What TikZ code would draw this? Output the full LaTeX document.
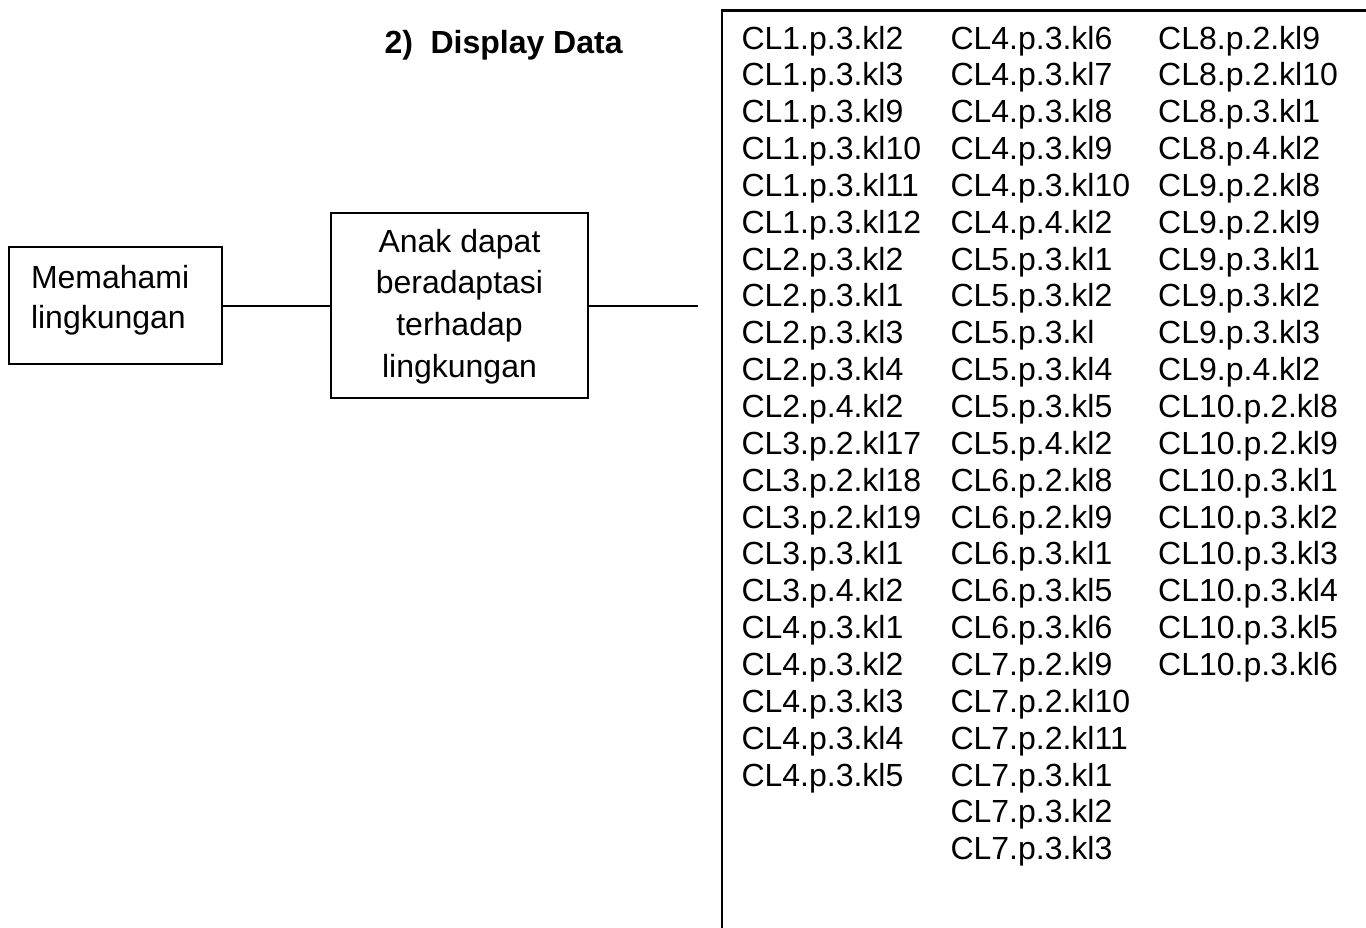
\documentclass[tikz,border=0pt]{standalone}
\usepackage{fontspec}
\setmainfont{Liberation Sans}
% stacked lines, baseline of the whole stack = baseline of its first line
\newcommand\stackleft[2]{\vtop{\baselineskip=#1\lineskiplimit=-20pt\halign{##\hfil\cr#2\crcr}}}
\newcommand\stackcenter[2]{\vtop{\baselineskip=#1\lineskiplimit=-20pt\halign{\hfil##\hfil\cr#2\crcr}}}
\tikzset{
  txt/.style={font=\fontsize{12pt}{13.8pt}\selectfont},
  box/.style={draw, line width=0.75pt, rectangle, txt, inner ysep=0pt},
  link/.style={line width=0.75pt},
  column/.style={txt, anchor=base west, inner sep=0pt},
}
\begin{document}
\begin{tikzpicture}[x=0.375pt,y=-0.375pt]
\useasboundingbox (0,0) rectangle (1366,928);
\clip (0,0) rectangle (1366,928);

% heading
\node[txt, anchor=base west, inner sep=0pt] (title) at (384,53)
  {\textbf{\makebox[17.25pt][l]{2)}Display Data}};

% left chain of boxes
\node[box, inner xsep=8.25pt, minimum width=79.875pt, minimum height=43.875pt,
      text height=8pt, text depth=20.9pt] (mem) at (115.5,305.5)
  {\hbox to 63.375pt{\stackleft{15pt}{Memahami\cr lingkungan}\hfil}};

\node[box, inner xsep=0pt, minimum width=96.375pt, minimum height=69.375pt,
      text height=8pt, text depth=48.125pt] (anak) at (459.5,305.5)
  {\stackcenter{15.64pt}{Anak dapat\cr beradaptasi\cr terhadap\cr lingkungan}};

\coordinate (lineend) at (698,305.5);

% data frame running past the right and bottom edges
\node[draw, line width=1pt, anchor=north west, inner sep=0pt,
      minimum width=247.3pt, minimum height=349.1pt] (data) at (720.5,9) {};

\draw[link] (mem.east) -- (anak.west);
\draw[link] (anak.east) -- (lineend);

% data codes, three columns
\node[column] (col1) at (741,49) {\stackleft{13.82pt}{%
CL1.p.3.kl2\cr CL1.p.3.kl3\cr CL1.p.3.kl9\cr CL1.p.3.kl10\cr CL1.p.3.kl11\cr
CL1.p.3.kl12\cr CL2.p.3.kl2\cr CL2.p.3.kl1\cr CL2.p.3.kl3\cr CL2.p.3.kl4\cr
CL2.p.4.kl2\cr CL3.p.2.kl17\cr CL3.p.2.kl18\cr CL3.p.2.kl19\cr CL3.p.3.kl1\cr
CL3.p.4.kl2\cr CL4.p.3.kl1\cr CL4.p.3.kl2\cr CL4.p.3.kl3\cr CL4.p.3.kl4\cr
CL4.p.3.kl5}};

\node[column] (col2) at (950,49) {\stackleft{13.82pt}{%
CL4.p.3.kl6\cr CL4.p.3.kl7\cr CL4.p.3.kl8\cr CL4.p.3.kl9\cr CL4.p.3.kl10\cr
CL4.p.4.kl2\cr CL5.p.3.kl1\cr CL5.p.3.kl2\cr CL5.p.3.kl\cr CL5.p.3.kl4\cr
CL5.p.3.kl5\cr CL5.p.4.kl2\cr CL6.p.2.kl8\cr CL6.p.2.kl9\cr CL6.p.3.kl1\cr
CL6.p.3.kl5\cr CL6.p.3.kl6\cr CL7.p.2.kl9\cr CL7.p.2.kl10\cr CL7.p.2.kl11\cr
CL7.p.3.kl1\cr CL7.p.3.kl2\cr CL7.p.3.kl3}};

\node[column] (col3) at (1157.7,49) {\stackleft{13.82pt}{%
CL8.p.2.kl9\cr CL8.p.2.kl10\cr CL8.p.3.kl1\cr CL8.p.4.kl2\cr CL9.p.2.kl8\cr
CL9.p.2.kl9\cr CL9.p.3.kl1\cr CL9.p.3.kl2\cr CL9.p.3.kl3\cr CL9.p.4.kl2\cr
CL10.p.2.kl8\cr CL10.p.2.kl9\cr CL10.p.3.kl1\cr CL10.p.3.kl2\cr CL10.p.3.kl3\cr
CL10.p.3.kl4\cr CL10.p.3.kl5\cr CL10.p.3.kl6}};
\end{tikzpicture}
\end{document}
